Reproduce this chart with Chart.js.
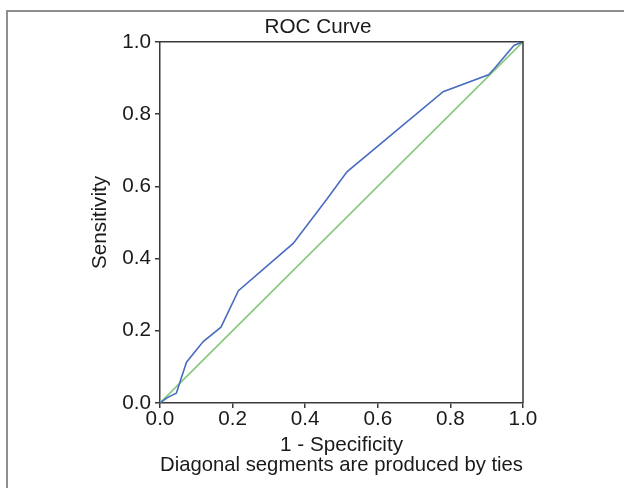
<!DOCTYPE html>
<html lang="en">
<head>
    <meta charset="UTF-8">
    <title>ROC Curve</title>
    <style>
        body {
            margin: 0;
            padding: 0;
            background-color: #fff;
            overflow: hidden;
        }
        .frame {
            position: absolute;
            left: 6px;
            top: 10px;
            width: 700px;
            height: 600px;
            border: 2px solid #8e8e8e;
        }
        #rocChart {
            position: absolute;
            left: 0;
            top: 0;
        }
    </style>
    <script src="https://cdn.jsdelivr.net/npm/chart.js"></script>
</head>
<body>

    <div class="frame"></div>
    <canvas id="rocChart" width="624" height="488"></canvas>

    <script>
        // ROC points
        const fprValues = [0, 0.02, 0.045, 0.055, 0.073, 0.119, 0.168, 0.216, 0.367, 0.46, 0.515, 0.78, 0.905, 0.92, 0.975, 1];
        const tprValues = [0, 0.015, 0.027, 0.058, 0.113, 0.17, 0.21, 0.311, 0.442, 0.565, 0.64, 0.862, 0.909, 0.925, 0.99, 1];
        const refX = [0, 1];
        const refY = [0, 1];
        const tickValues = [0, 0.2, 0.4, 0.6, 0.8, 1.0];

        const fontFamily = '"Liberation Sans", Arial, sans-serif';
        const fontSize = 20.7;
        const textColor = '#1a1a1a';
        const axisColor = '#3a3a3a';

        function toPoints(xs, ys) {
            return xs.map((x, i) => ({ x: x, y: ys[i] }));
        }

        // draws the top and right edges of the plot box
        const boxPlugin = {
            id: 'plotBox',
            afterDraw(chart) {
                const a = chart.chartArea;
                const ctx = chart.ctx;
                ctx.save();
                ctx.strokeStyle = axisColor;
                ctx.lineWidth = 1.5;
                ctx.beginPath();
                ctx.moveTo(a.left, a.top);
                ctx.lineTo(a.right, a.top);
                ctx.lineTo(a.right, a.bottom);
                ctx.stroke();
                ctx.restore();
            }
        };

        const ctx = document.getElementById('rocChart').getContext('2d');

        new Chart(ctx, {
            type: 'scatter',
            data: {
                datasets: [
                    {
                        label: 'Reference',
                        data: toPoints(refX, refY),
                        showLine: true,
                        borderColor: '#86c97a',
                        borderWidth: 1.6,
                        pointRadius: 0,
                        order: 2
                    },
                    {
                        label: 'ROC',
                        data: toPoints(fprValues, tprValues),
                        showLine: true,
                        borderColor: '#4a6cc0',
                        borderWidth: 1.6,
                        pointRadius: 0,
                        order: 1
                    }
                ]
            },
            plugins: [boxPlugin],
            options: {
                responsive: false,
                animation: false,
                devicePixelRatio: 1,
                layout: {
                    padding: { left: 113, right: 101, top: 0, bottom: 0 }
                },
                plugins: {
                    legend: { display: false },
                    tooltip: { enabled: false },
                    title: {
                        display: true,
                        text: 'ROC Curve',
                        color: textColor,
                        font: { family: fontFamily, size: fontSize, weight: 'normal', lineHeight: 1.2 },
                        padding: { top: 15, bottom: 2 }
                    }
                },
                scales: {
                    x: {
                        type: 'linear',
                        min: 0,
                        max: 1,
                        afterBuildTicks(scale) {
                            scale.ticks = tickValues.map(v => ({ value: v }));
                        },
                        afterFit(scale) {
                            scale.height = 85;
                            scale.paddingLeft = 0;
                            scale.paddingRight = 0;
                        },
                        grid: {
                            drawOnChartArea: false,
                            drawTicks: true,
                            tickLength: 5,
                            color: axisColor,
                            lineWidth: 1.5
                        },
                        border: { color: axisColor, width: 1.5 },
                        ticks: {
                            padding: -1,
                            color: textColor,
                            maxRotation: 0,
                            font: { family: fontFamily, size: fontSize },
                            callback: v => Number(v).toFixed(1)
                        },
                        title: {
                            display: true,
                            text: ['1 - Specificity', 'Diagonal segments are produced by ties'],
                            color: textColor,
                            font: { family: fontFamily, size: fontSize, lineHeight: 1 },
                            padding: { top: 0, bottom: 12 }
                        }
                    },
                    y: {
                        type: 'linear',
                        min: 0,
                        max: 1,
                        afterBuildTicks(scale) {
                            scale.ticks = tickValues.map(v => ({ value: v }));
                        },
                        afterFit(scale) {
                            scale.width = 47;
                            scale.paddingTop = 0;
                            scale.paddingBottom = 0;
                        },
                        grid: {
                            drawOnChartArea: false,
                            drawTicks: true,
                            tickLength: 5,
                            color: axisColor,
                            lineWidth: 1.5
                        },
                        border: { color: axisColor, width: 1.5 },
                        ticks: {
                            padding: 4,
                            color: textColor,
                            font: { family: fontFamily, size: fontSize },
                            callback: v => Number(v).toFixed(1)
                        },
                        title: {
                            display: true,
                            text: 'Sensitivity',
                            color: textColor,
                            font: { family: fontFamily, size: fontSize, lineHeight: 1.2 },
                            padding: { top: -25, bottom: 0 }
                        }
                    }
                }
            }
        });
    </script>
</body>
</html>
